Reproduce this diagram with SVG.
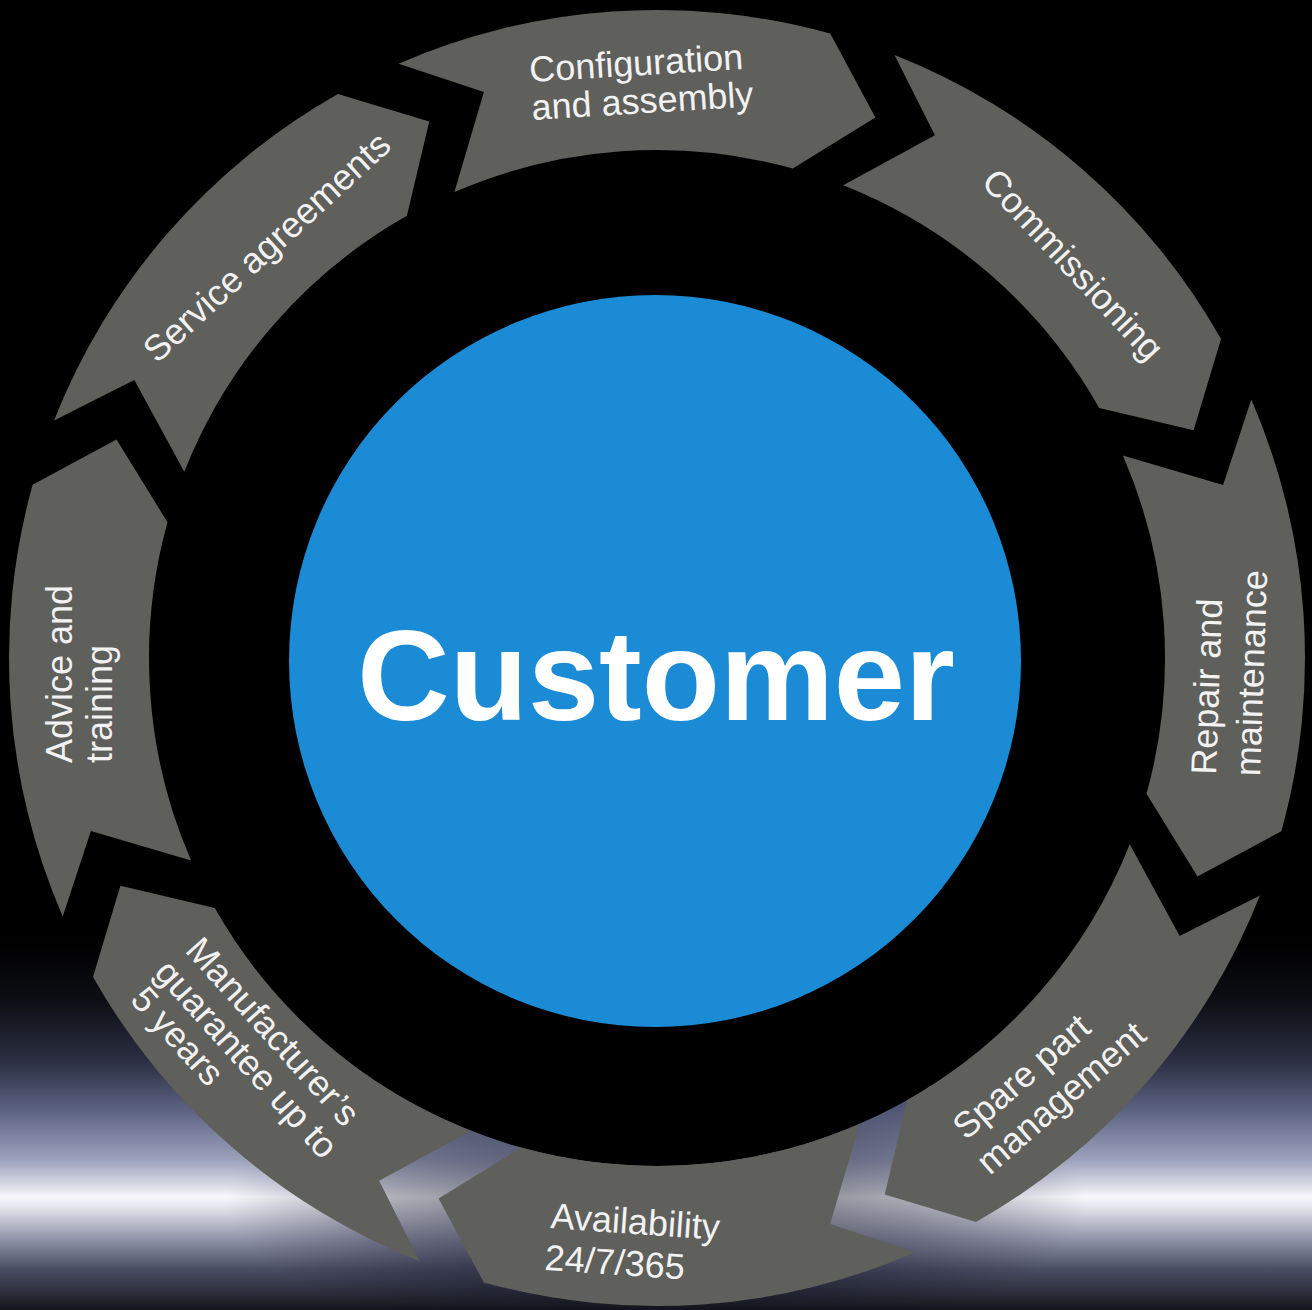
<svg xmlns="http://www.w3.org/2000/svg" xmlns:xlink="http://www.w3.org/1999/xlink" width="1312" height="1310" viewBox="0 0 1312 1310">
<style>
.seg{fill:#5f5f5b}
.lbl{font-family:"Liberation Sans",Arial,Helvetica,sans-serif;font-size:36px;fill:#f2f2f2}
.hub{font-family:"Liberation Sans",Arial,Helvetica,sans-serif;font-size:128px;font-weight:bold;fill:#ffffff}
</style>
<defs>
<linearGradient id="glow" gradientUnits="userSpaceOnUse" x1="0" y1="940" x2="0" y2="1310">
<stop offset="0" stop-color="#000000"/>
<stop offset="0.162" stop-color="#0d0e14"/>
<stop offset="0.324" stop-color="#2a2e40"/>
<stop offset="0.459" stop-color="#5c6282"/>
<stop offset="0.595" stop-color="#9ca2bc"/>
<stop offset="0.662" stop-color="#d8dae6"/>
<stop offset="0.695" stop-color="#f8f8fc"/>
<stop offset="0.73" stop-color="#dcdde6"/>
<stop offset="0.81" stop-color="#8e92a6"/>
<stop offset="0.89" stop-color="#4a4e62"/>
<stop offset="1" stop-color="#15161c"/>
</linearGradient>
<radialGradient id="dim" cx="0.5" cy="0.5" r="0.5">
<stop offset="0" stop-color="#05061a" stop-opacity="0.6"/>
<stop offset="0.6" stop-color="#05061a" stop-opacity="0.3"/>
<stop offset="1" stop-color="#05061a" stop-opacity="0"/>
</radialGradient>
<path id="arrow" d="M398.6,63.7 A648,648 0 0 1 830.2,33.6 L875.4,117.5 L792.8,168.5 A508,508 0 0 0 454.4,192.1 L483.9,91.9 Z"/>
</defs>
<rect x="0" y="0" width="1312" height="1310" fill="#000000"/>
<rect x="0" y="940" width="1312" height="370" fill="url(#glow)"/>
<ellipse cx="656" cy="1200" rx="430" ry="150" fill="url(#dim)"/>
<circle cx="657" cy="658" r="508" fill="#000000"/>

<g id="configuration-and-assembly">
<use href="#arrow" xlink:href="#arrow" class="seg"/>
<text class="lbl" transform="translate(530,82) rotate(-3.5)"><tspan x="0" y="0">Configuration</tspan><tspan x="0" y="38">and assembly</tspan></text>
</g>
<g id="commissioning">
<use href="#arrow" xlink:href="#arrow" class="seg" transform="rotate(45 657 658)"/>
<text class="lbl" text-anchor="middle" transform="translate(1064,273) rotate(47)">Commissioning</text>
</g>
<g id="repair-and-maintenance">
<use href="#arrow" xlink:href="#arrow" class="seg" transform="rotate(90 657 658)"/>
<text class="lbl" transform="translate(1216,775) rotate(-88)"><tspan x="0" y="0">Repair and</tspan><tspan x="0" y="44">maintenance</tspan></text>
</g>
<g id="spare-part-management">
<use href="#arrow" xlink:href="#arrow" class="seg" transform="rotate(135 657 658)"/>
<text class="lbl" transform="translate(966,1141) rotate(-41)"><tspan x="0" y="0">Spare part</tspan><tspan x="-5" y="42">management</tspan></text>
</g>
<g id="availability">
<use href="#arrow" xlink:href="#arrow" class="seg" transform="rotate(180 657 658)"/>
<text class="lbl" transform="translate(550,1228) rotate(4)"><tspan x="0" y="0">Availability</tspan><tspan x="-3" y="42">24/7/365</tspan></text>
</g>
<g id="manufacturers-guarantee">
<use href="#arrow" xlink:href="#arrow" class="seg" transform="rotate(225 657 658)"/>
<text class="lbl" transform="translate(184,951) rotate(48)"><tspan x="0" y="0">Manufacturer’s</tspan><tspan x="-4" y="38">guarantee up to</tspan><tspan x="0" y="74">5 years</tspan></text>
</g>
<g id="advice-and-training">
<use href="#arrow" xlink:href="#arrow" class="seg" transform="rotate(270 657 658)"/>
<text class="lbl" transform="translate(72,763) rotate(-90)"><tspan x="0" y="0">Advice and</tspan><tspan x="0" y="40">training</tspan></text>
</g>
<g id="service-agreements">
<use href="#arrow" xlink:href="#arrow" class="seg" transform="rotate(315 657 658)"/>
<text class="lbl" text-anchor="middle" transform="translate(275,256) rotate(-42.5)">Service agreements</text>
</g>

<g id="customer">
<circle cx="655" cy="661" r="366" fill="#1b8bd5"/>
<text class="hub" x="656" y="720" text-anchor="middle">Customer</text>
</g>
</svg>
